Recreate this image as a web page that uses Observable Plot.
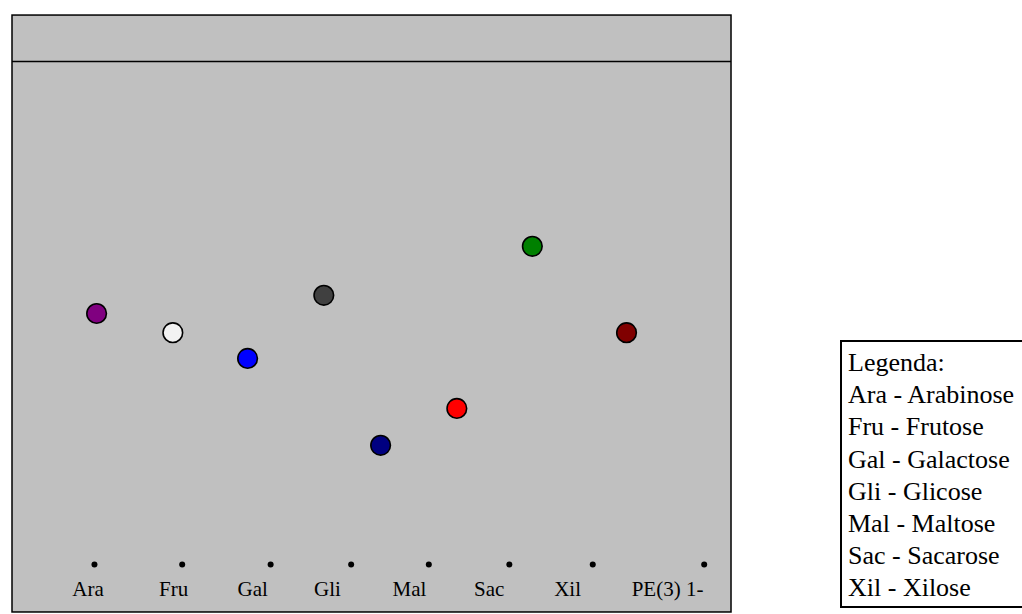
<!DOCTYPE html>
<html>
<head>
<meta charset="utf-8">
<script src="https://cdn.jsdelivr.net/npm/d3@7"></script>
<script src="https://cdn.jsdelivr.net/npm/@observablehq/plot@0.6"></script>
<style>
  html, body { margin: 0; padding: 0; background: #fff; overflow: hidden; width: 1022px; height: 614px; }
  #chart { position: absolute; left: 0; top: 0; }
  #legend {
    position: absolute; left: 840px; top: 340px; width: 220px; height: 268px;
    border: 2px solid #000; border-right: none; background: #fff;
    font-family: "Liberation Serif", "Times New Roman", serif; font-size: 26px;
    line-height: 32.2px; padding: 5px 0 0 6px; box-sizing: border-box; color: #000;
    white-space: nowrap;
  }
</style>
</head>
<body>
<div id="chart"></div>
<div id="legend"></div>
<script>
// Lanes (sample codes) shown under the origin line
const lanes = ["Ara", "Fru", "Gal", "Gli", "Mal", "Sac", "Xil", "PE(3) 1-"];
// Horizontal position across the plate (% of plate width)
const originX = [11.4, 23.6, 35.9, 47.1, 57.9, 69.1, 80.7, 96.2];
const labelX  = [10.5, 22.4, 33.4, 43.8, 55.2, 66.3, 77.2, 91.1];
const spotX   = [11.7, 22.3, 32.7, 43.3, 51.2, 61.8, 72.3, 85.4];
// Retention factor (Rf) of each spot
const spotRf  = [0.501, 0.463, 0.412, 0.537, 0.240, 0.313, 0.634, 0.463];
const spotColor = ["#800080", "#f2f2f2", "#0000ff", "#404040", "#000080", "#ff0000", "#008000", "#800000"];
// Legend
const legendTitle = "Legenda:";
const legendItems = ["Ara - Arabinose", "Fru - Frutose", "Gal - Galactose", "Gli - Glicose", "Mal - Maltose", "Sac - Sacarose", "Xil - Xilose"];

const plate = [{x1: 0, x2: 100, y1: -0.091, y2: 1.091}];
const spots = lanes.map((l, i) => ({lane: l, x: spotX[i], rf: spotRf[i], color: spotColor[i]}));
const origins = lanes.map((l, i) => ({lane: l, x: originX[i], lx: labelX[i]}));

const chart = Plot.plot({
  width: 1022,
  height: 614,
  margin: 0,
  x: {domain: [-1.669, 140.47], axis: null},
  y: {domain: [-0.0950, 1.1208], axis: null},
  style: {fontFamily: "'Liberation Serif', 'Times New Roman', serif", background: "#fff"},
  marks: [
    Plot.rect(plate, {x1: "x1", x2: "x2", y1: "y1", y2: "y2", fill: "#c0c0c0", stroke: "#000", strokeWidth: 1.5}),
    Plot.ruleY([1], {x1: 0, x2: 100, stroke: "#000", strokeWidth: 1.5}),
    Plot.dot(origins, {x: "x", y: 0.004, r: 3, fill: "#000", stroke: "none"}),
    Plot.text(origins, {x: "lx", y: -0.046, text: "lane", fontSize: 21, fill: "#000"}),
    Plot.dot(spots, {x: "x", y: "rf", r: 9.8, fill: "color", stroke: "#000", strokeWidth: 1.6})
  ]
});
document.getElementById("chart").appendChild(chart);

const legend = document.getElementById("legend");
[legendTitle, ...legendItems].forEach(t => {
  const d = document.createElement("div");
  d.textContent = t;
  legend.appendChild(d);
});
</script>
</body>
</html>
